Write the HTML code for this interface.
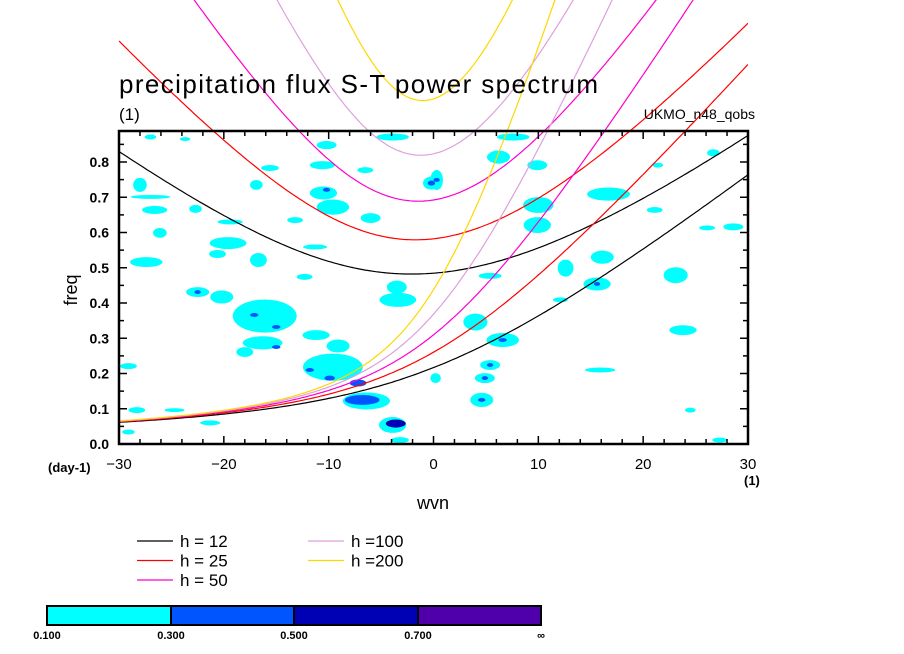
<!DOCTYPE html>
<html><head><meta charset="utf-8"><style>
html,body{margin:0;padding:0;background:#fff;}
svg{display:block;font-family:"Liberation Sans",sans-serif;}
</style></head><body>
<svg id="chart" width="904" height="654" viewBox="0 0 904 654" xmlns="http://www.w3.org/2000/svg">
<defs><clipPath id="cx"><rect x="119" y="0" width="629" height="444"/></clipPath>
<clipPath id="cp"><rect x="119" y="131" width="629" height="313"/></clipPath></defs>
<rect x="0" y="0" width="904" height="654" fill="#fff"/>
<g id="blobs" clip-path="url(#cp)"></g>
<g id="curves" clip-path="url(#cx)"></g>
<rect x="119" y="131" width="629" height="313" fill="none" stroke="#000" stroke-width="2.5"/>
<g id="ticks"></g>
<text x="119" y="93" font-size="26" textLength="479">precipitation flux S-T power spectrum</text>
<text x="119" y="120" font-size="17">(1)</text>
<text x="755" y="119" font-size="14" text-anchor="end">UKMO_n48_qobs</text>
<text x="77" y="290" font-size="18" text-anchor="middle" transform="rotate(-90 77 290)">freq</text>
<text x="48" y="472" font-size="13" font-weight="bold">(day-1)</text>
<text x="433" y="509" font-size="18" text-anchor="middle">wvn</text>
<text x="744" y="485" font-size="13" font-weight="bold">(1)</text>
<g id="legend"></g>
<g id="cbar"></g>
</svg>
<script>
const NS="http://www.w3.org/2000/svg";
// axis data
const xTicks=[-30,-20,-10,0,10,20,30];
const yTicks=[0.0,0.1,0.2,0.3,0.4,0.5,0.6,0.7,0.8];
const depths=[12,25,50,100,200];
const depthColors=["#000000","#ff0000","#ff00cc","#dda0dd","#ffd700"];
const levels=["0.100","0.300","0.500","0.700","\u221e"];
const levelColors=["#00ffff","#0055ff","#0000b4","#5000aa"];
// contour blobs (wvn, freq, width in wvn, height in freq, level)
const blobWvn=[-27.0,-23.7,-10.2,-10.6,-6.5,-3.9,-0.2,-28.0,-27.0,-26.6,-22.7,-19.4,-26.1,-16.9,-15.6,-10.5,-9.6,-13.2,-6.0,-11.3,-27.4,-20.6,-16.7,-19.6,-22.5,-20.2,-12.3,-3.5,-3.4,-16.1,-16.3,-11.2,-9.1,-18.0,-9.6,-6.4,-3.9,-3.2,-29.1,-28.3,-24.7,-29.1,-21.3,0.3,6.2,9.9,10.0,9.9,16.7,21.1,16.1,12.6,5.4,15.6,4.0,6.6,5.4,4.9,4.6,23.1,26.7,23.8,0.2,7.6,28.6,26.1,21.4,24.5,15.9,12.1,27.3,
 -0.2,-10.2,-22.5,-17.1,-15.0,-15.0,-11.8,-9.9,-7.2,-6.8,-3.6,0.3,15.6,6.6,5.4,4.9,4.6,-3.5];
const blobFreq=[0.871,0.865,0.848,0.791,0.777,0.871,0.740,0.735,0.701,0.664,0.667,0.630,0.599,0.735,0.783,0.712,0.672,0.635,0.641,0.559,0.516,0.539,0.522,0.570,0.431,0.417,0.474,0.445,0.409,0.363,0.287,0.309,0.278,0.261,0.218,0.122,0.054,0.011,0.221,0.096,0.096,0.034,0.060,0.749,0.814,0.791,0.678,0.621,0.709,0.664,0.530,0.499,0.477,0.454,0.346,0.295,0.224,0.187,0.125,0.479,0.826,0.323,0.187,0.871,0.616,0.613,0.791,0.096,0.210,0.409,0.011,
 0.740,0.721,0.431,0.366,0.332,0.275,0.210,0.187,0.173,0.125,0.058,0.749,0.454,0.295,0.224,0.187,0.125,0.062];
const blobDw=[1.1,1.0,1.9,2.4,1.5,3.1,1.6,1.3,3.8,2.4,1.2,2.4,1.3,1.2,1.7,2.6,3.1,1.5,1.9,2.3,3.1,1.6,1.6,3.5,2.2,2.2,1.5,1.9,3.5,6.1,3.8,2.6,2.2,1.6,5.7,4.5,2.6,1.7,1.6,1.6,1.9,1.2,1.9,1.2,2.2,1.9,2.9,2.6,4.1,1.5,2.2,1.5,2.2,2.6,2.3,3.1,1.9,1.9,2.2,2.3,1.2,2.6,1.0,3.1,1.9,1.5,1.0,1.0,2.9,1.4,1.4,
 0.7,0.7,0.6,0.8,0.8,0.8,0.8,1.0,1.6,3.3,1.9,0.6,0.6,0.8,0.6,0.6,0.7,0.8];
const blobDf=[0.014,0.011,0.023,0.023,0.017,0.020,0.037,0.040,0.011,0.023,0.023,0.014,0.028,0.028,0.017,0.037,0.043,0.017,0.028,0.014,0.028,0.023,0.040,0.034,0.028,0.037,0.017,0.037,0.040,0.094,0.037,0.028,0.037,0.028,0.077,0.048,0.045,0.017,0.017,0.017,0.011,0.014,0.014,0.057,0.037,0.028,0.045,0.045,0.037,0.017,0.037,0.048,0.017,0.037,0.048,0.040,0.028,0.028,0.040,0.045,0.020,0.028,0.028,0.020,0.020,0.014,0.014,0.014,0.014,0.014,0.014,
 0.014,0.011,0.011,0.011,0.011,0.011,0.011,0.014,0.020,0.028,0.023,0.011,0.011,0.011,0.011,0.011,0.011,0.011];
const blobLvl=[1,1,1,1,1,1,1,1,1,1,1,1,1,1,1,1,1,1,1,1,1,1,1,1,1,1,1,1,1,1,1,1,1,1,1,1,1,1,1,1,1,1,1,1,1,1,1,1,1,1,1,1,1,1,1,1,1,1,1,1,1,1,1,1,1,1,1,1,1,1,1,
 2,2,2,2,2,2,2,2,2,2,3,2,2,2,2,2,2,3];

const X0=119,X1=748,Y0=444,YPER=352.5;
const xs=w=>X0+(w+30)*(X1-X0)/60;
const ys=f=>Y0-f*YPER;
const svg=document.getElementById('chart');
function mk(tag,attrs,parent){const e=document.createElementNS(NS,tag);for(const k in attrs)e.setAttribute(k,attrs[k]);parent.appendChild(e);return e;}

// blobs
const gB=document.getElementById('blobs');
for(let i=0;i<blobWvn.length;i++){
  const e=mk('ellipse',{cx:xs(blobWvn[i]),cy:ys(blobFreq[i]),rx:blobDw[i]*(X1-X0)/120,ry:blobDf[i]*YPER/2,fill:levelColors[blobLvl[i]-1]},gB);
  
  
}

// dispersion curves
const a=6.371e6,beta=2*7.292e-5/a,g=9.81;
const toCpd=w=>w*86400/(2*Math.PI);
function omega(n,s,h){
  const c=Math.sqrt(g*h),k=s/a;
  if(n===0){return k*c/2+Math.sqrt(k*k*c*c/4+beta*c);}
  let w=Math.sqrt((2*n+1)*beta*c+k*k*c*c);
  for(let it=0;it<50;it++){
    const F=w*w/(c*c)-k*k-beta*k/w-(2*n+1)*beta/c;
    const dF=2*w/(c*c)+beta*k/(w*w);
    w-=F/dF;
  }
  return w;
}
const gC=document.getElementById('curves');
depths.forEach((h,i)=>{
  [0,2].forEach(n=>{
    let d='';
    for(let s=-30;s<=30.001;s+=0.25){
      const f=toCpd(omega(n,s,h));
      d+=(d?'L':'M')+xs(s).toFixed(1)+' '+ys(f).toFixed(1);
    }
    const p=mk('path',{d:d,fill:'none',stroke:depthColors[i],'stroke-width':1.2},gC);
    
    
  });
});

// ticks
const gT=document.getElementById('ticks');
for(let w=-30;w<=30;w+=2){
  const L=(w%10===0)?8:5;
  mk('line',{x1:xs(w),x2:xs(w),y1:Y0,y2:Y0-L,stroke:'#000','stroke-width':1.5},gT);
  mk('line',{x1:xs(w),x2:xs(w),y1:131,y2:131+L,stroke:'#000','stroke-width':1.5},gT);
}
for(let j=0;j<=17;j++){
  const f=j*0.05,L=(j%2===0)?8:5;
  mk('line',{x1:X0,x2:X0+L,y1:ys(f),y2:ys(f),stroke:'#000','stroke-width':1.5},gT);
  mk('line',{x1:X1,x2:X1-L,y1:ys(f),y2:ys(f),stroke:'#000','stroke-width':1.5},gT);
}
xTicks.forEach(v=>{
  const t=mk('text',{x:xs(v),y:469,'font-size':15,'text-anchor':'middle'},svg);
  t.textContent=(v<0?'\u2212':'')+Math.abs(v);
  
  
});
yTicks.forEach(v=>{
  const t=mk('text',{x:109,y:ys(v)+5,'font-size':14,'font-weight':'bold','text-anchor':'end'},svg);
  t.textContent=v.toFixed(1);
  
  
});

// legend
const gL=document.getElementById('legend');
depths.forEach((h,i)=>{
  const col=i<3?0:1,row=i<3?i:i-3;
  const lx=col?308:137,ly=541+row*19.5;
  const l=mk('line',{x1:lx,x2:lx+36,y1:ly,y2:ly,stroke:depthColors[i],'stroke-width':1.2},gL);
  
  
  const t=mk('text',{x:lx+43,y:ly+6,'font-size':17},gL);
  t.textContent=h<100?('h = '+h):('h ='+h);
  
  
});

// colorbar
const gCb=document.getElementById('cbar');
const cbX=[47,171,294,418,541];
levelColors.forEach((c,i)=>{
  const r=mk('rect',{x:cbX[i],y:606,width:cbX[i+1]-cbX[i],height:19,fill:c,stroke:'#000','stroke-width':2},gCb);
  
  
});
levels.forEach((s,i)=>{
  const t=mk('text',{x:cbX[i],y:639,'font-size':11,'font-weight':'bold','text-anchor':'middle'},gCb);
  t.textContent=s;
  
  
});
</script>
</body></html>
